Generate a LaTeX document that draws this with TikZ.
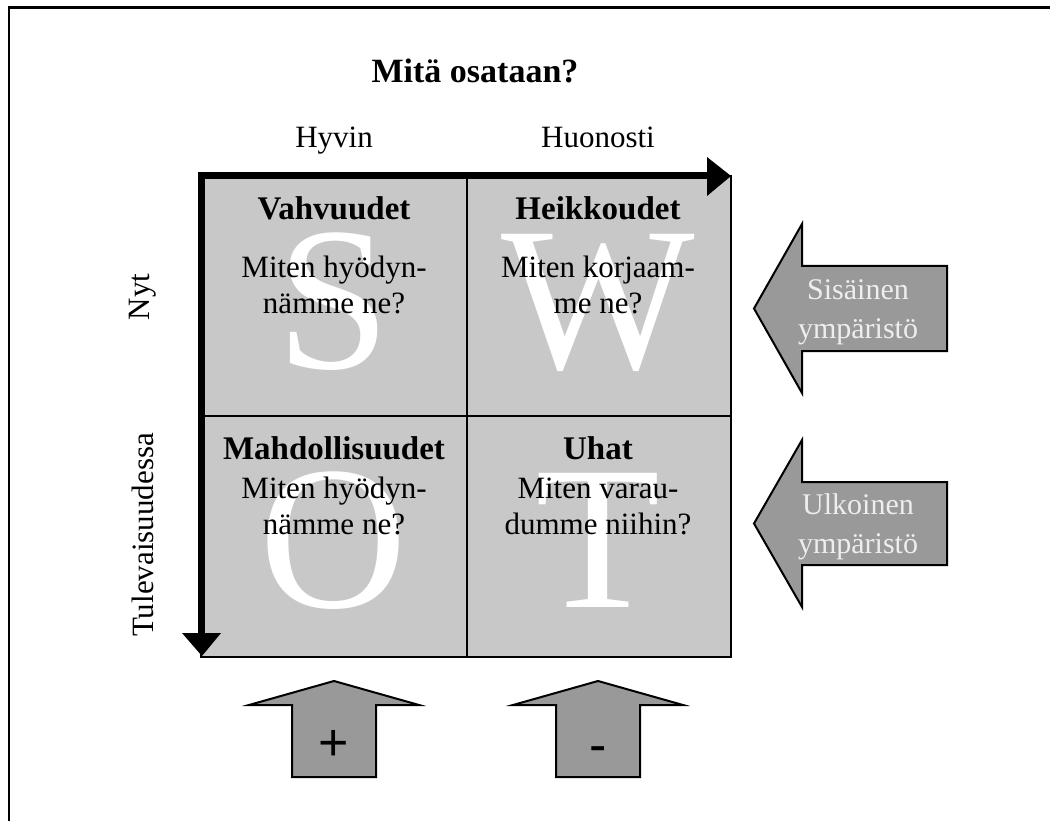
\documentclass[tikz,border=0pt]{standalone}
\usepackage{fontspec}
\setmainfont{Liberation Serif}
\newfontfamily\sansf{Liberation Sans}
\definecolor{cellgray}{RGB}{200,200,200}
\definecolor{arrowgray}{RGB}{153,153,153}
\definecolor{paletext}{RGB}{238,238,238}
\begin{document}
\begin{tikzpicture}[x=1pt,y=-1pt,
  cell/.style={draw=black,line width=2pt,fill=cellgray},
  bigletter/.style={text=white,font=\fontsize{205}{205}\selectfont,anchor=base,inner sep=0pt},
  heading/.style={font=\fontsize{33}{38}\selectfont\bfseries,inner sep=0pt},
  body/.style={font=\fontsize{31}{36}\selectfont,align=center,inner sep=0pt},
  label/.style={font=\fontsize{31}{36}\selectfont,inner sep=0pt},
  axis/.style={line width=7pt,line join=miter},
  blockarrow/.style={draw=black,line width=2pt,fill=arrowgray,line join=miter},
  arrowtext/.style={text=paletext,font=\fontsize{30}{39}\selectfont,align=center,inner sep=0pt},
  signtext/.style={font=\sansf\fontsize{52}{52}\selectfont,inner sep=0pt}]
\useasboundingbox (0,0) rectangle (1050,821);
% outer frame
\draw[line width=2.5pt,line join=miter] (9,830) -- (9,7.5) -- (1060,7.5);

% title and column labels
\node[font=\fontsize{34}{40}\selectfont\bfseries,anchor=base,inner sep=0pt] (title) at (475,83) {Mitä osataan?};
\node[label,anchor=base] (good) at (334,148) {Hyvin};
\node[label,anchor=base] (bad) at (598,148) {Huonosti};

% row labels
\node[label,rotate=90] (now) at (143,297) {Nyt};
\node[label,rotate=90] (future) at (143,535) {Tulevaisuudessa};

% the four cells
\draw[cell] (201,176) rectangle (467,416);
\draw[cell] (467,176) rectangle (731,416);
\draw[cell] (201,416) rectangle (467,657);
\draw[cell] (467,416) rectangle (731,657);

% large background letters
\node[bigletter] (S) at (334,368) {S};
\node[bigletter] (W) at (598,368) {W};
\node[bigletter] (O) at (334,607) {O};
\node[bigletter] (T) at (598,607) {T};

% cell texts
\node[heading] (sh) at (334,208) {Vahvuudet};
\node[body] (sb) at (334,285) {Miten hyödyn-\\nämme ne?};
\node[heading] (wh) at (598,208) {Heikkoudet};
\node[body] (wb) at (598,285) {Miten korjaam-\\me ne?};
\node[heading] (oh) at (334,448) {Mahdollisuudet};
\node[body] (ob) at (334,506) {Miten hyödyn-\\nämme ne?};
\node[heading] (th) at (598,448) {Uhat};
\node[body] (tb) at (598,506) {Miten varau-\\dumme niihin?};

% axes with arrow heads
\draw[axis] (201,634) -- (201,176) -- (708,176);
\fill (707,157) -- (731,176) -- (707,196) -- cycle;
\fill (182,633) -- (202,656) -- (221,633) -- cycle;

% environment arrows pointing left
\draw[blockarrow] (754,308.5) -- (802,224) -- (802,266) -- (947,266) -- (947,351) -- (802,351) -- (802,393) -- cycle;
\node[arrowtext] (inner) at (858,312) {Sisäinen\\ympäristö};
\draw[blockarrow] (754,523.5) -- (802,440) -- (802,482) -- (947,482) -- (947,565) -- (802,565) -- (802,607) -- cycle;
\node[arrowtext] (outer) at (858,527) {Ulkoinen\\ympäristö};

% plus and minus arrows pointing up
\draw[blockarrow] (334,681) -- (419,705) -- (376,705) -- (376,777) -- (292,777) -- (292,705) -- (249,705) -- cycle;
\node[signtext] (plus) at (334,745) {+};
\draw[blockarrow] (598,681) -- (683,705) -- (640,705) -- (640,777) -- (556,777) -- (556,705) -- (513,705) -- cycle;
\node[signtext] (minus) at (598,755) {-};
\end{tikzpicture}
\end{document}
